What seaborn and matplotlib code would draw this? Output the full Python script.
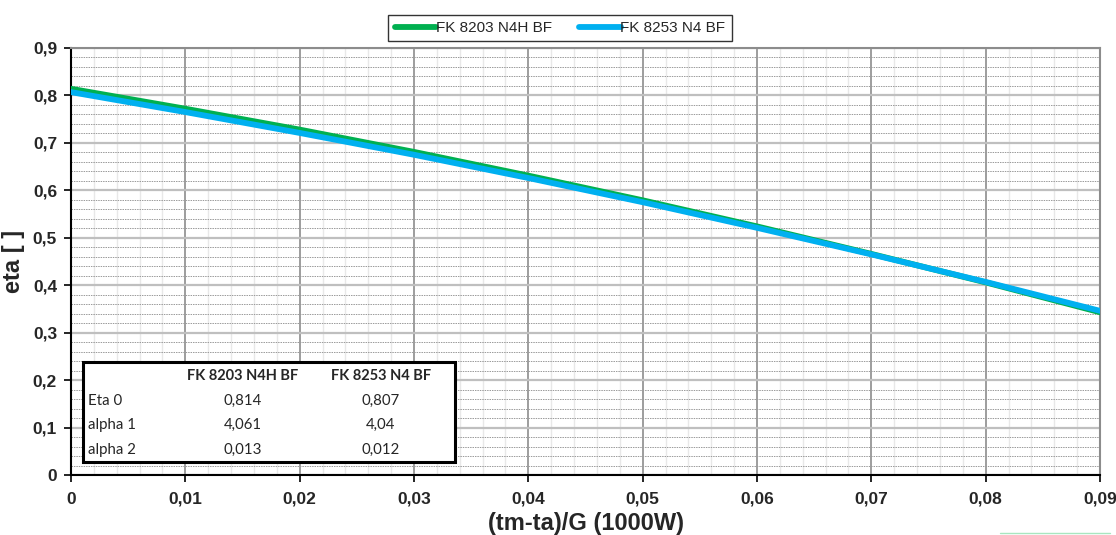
import numpy as np
import pandas as pd
import seaborn as sns
import matplotlib.pyplot as plt
from matplotlib.ticker import MultipleLocator, FuncFormatter
from matplotlib.lines import Line2D
from matplotlib.patches import Rectangle

# ---- data ----
x_vals = [0.00, 0.01, 0.02, 0.03, 0.04, 0.05, 0.06, 0.07, 0.08, 0.09]
eta_8203 = [0.814, 0.772, 0.728, 0.681, 0.631, 0.579, 0.524, 0.466, 0.406, 0.343]
eta_8253 = [0.807, 0.765, 0.721, 0.675, 0.626, 0.575, 0.521, 0.465, 0.407, 0.346]
series_names = ["FK 8203 N4H BF", "FK 8253 N4 BF"]
series_colors = ["#00b050", "#00b0f0"]
table_rows = ["Eta 0", "alpha 1", "alpha 2"]
table_8203 = ["0,814", "4,061", "0,013"]
table_8253 = ["0,807", "4,04", "0,012"]

df = pd.DataFrame({
    "x": x_vals * 2,
    "eta": eta_8203 + eta_8253,
    "series": [series_names[0]] * len(x_vals) + [series_names[1]] * len(x_vals),
})

sns.set_theme(style="white")
plt.rcParams['font.family'] = ['Liberation Sans', 'DejaVu Sans']

fig = plt.figure(figsize=(11.16, 5.35), dpi=100)
ax = fig.add_axes([71/1116, 1-475/535, (1100-71)/1116, (475-48)/535])

sns.lineplot(data=df, x="x", y="eta", hue="series", palette=series_colors,
             hue_order=series_names, linewidth=4.2, ax=ax, legend=False,
             zorder=5)
ax.lines[0].set_zorder(5)
ax.lines[1].set_zorder(6)

ax.set_xlim(0, 0.09)
ax.set_ylim(0, 0.9)
ax.xaxis.set_major_locator(MultipleLocator(0.01))
ax.xaxis.set_minor_locator(MultipleLocator(0.002))
ax.yaxis.set_major_locator(MultipleLocator(0.1))
ax.yaxis.set_minor_locator(MultipleLocator(0.02))

def comma_fmt(v, pos):
    s = f"{v:.2f}".rstrip('0').rstrip('.') if abs(v) > 1e-9 else "0"
    return s.replace('.', ',')
def comma_fmt_y(v, pos):
    s = f"{v:.1f}" if abs(v) > 1e-9 else "0"
    return s.replace('.', ',')
ax.xaxis.set_major_formatter(FuncFormatter(comma_fmt))
ax.yaxis.set_major_formatter(FuncFormatter(comma_fmt_y))

# grids
ax.grid(which='major', axis='x', color='#8c8c8c', linewidth=1.2, linestyle='-')
ax.grid(which='minor', axis='x', color='#e8e8e8', linewidth=1.0, linestyle='-')
ax.grid(which='major', axis='y', color='#bfbfbf', linewidth=1.6, linestyle='-')
ax.grid(which='minor', axis='y', color='#9a9a9a', linewidth=0.7, linestyle=(0, (1.5, 1)))
ax.set_axisbelow(True)

for side in ['top', 'right']:
    ax.spines[side].set_color('#8c8c8c')
    ax.spines[side].set_linewidth(1.5)
for side in ['left', 'bottom']:
    ax.spines[side].set_color('black')
    ax.spines[side].set_linewidth(1.5)

ax.tick_params(axis='both', which='major', direction='out', length=5, width=1.2,
               color='black', labelsize=12.5, pad=5)
ax.tick_params(axis='both', which='minor', length=0)
ax.tick_params(axis='x', which='major', pad=7, bottom=True)
ax.tick_params(axis='y', which='major', left=True)
for lbl in ax.get_xticklabels() + ax.get_yticklabels():
    lbl.set_fontweight('bold')

ax.set_xlabel("(tm-ta)/G (1000W)", fontsize=17, fontweight='bold', labelpad=4)
ax.set_ylabel("eta [ ]", fontsize=17, fontweight='bold', labelpad=6)

# legend
handles = [Line2D([0], [0], color=c, linewidth=4.2, solid_capstyle='round') for c in series_colors]
leg = fig.legend(handles, series_names, loc='center', bbox_to_anchor=(560/1116, 1-28/535),
                 ncol=2, frameon=True, fancybox=False, edgecolor='black', fontsize=11,
                 handlelength=2.7, handletextpad=0.0, columnspacing=1.8,
                 borderpad=0.4)
leg.get_frame().set_linewidth(1.0)

# parameter table
tx0, ty0, tx1, ty1 = 83, 362, 455, 462
def fx(px): return px / 1116
def fy(py): return 1 - py / 535
fig.patches.append(Rectangle((fx(tx0), fy(ty1)), fx(tx1) - fx(tx0), fy(ty0) - fy(ty1),
                             transform=fig.transFigure, facecolor='white',
                             edgecolor='black', linewidth=2.2, zorder=10))
tfont = ['Lato', 'Open Sans', 'DejaVu Sans']
row_y = [376, 401, 425, 450]
fig.text(fx(243), fy(row_y[0]), series_names[0], ha='center', va='center',
         fontsize=10.5, fontweight='bold', family=tfont, zorder=11)
fig.text(fx(381), fy(row_y[0]), series_names[1], ha='center', va='center',
         fontsize=10.5, fontweight='bold', family=tfont, zorder=11)
for i, name in enumerate(table_rows):
    fig.text(fx(88), fy(row_y[i + 1]), name, ha='left', va='center',
             fontsize=10.8, family=tfont, zorder=11)
    fig.text(fx(243), fy(row_y[i + 1]), table_8203[i], ha='center', va='center',
             fontsize=10.8, family=tfont, zorder=11)
    fig.text(fx(381), fy(row_y[i + 1]), table_8253[i], ha='center', va='center',
             fontsize=10.8, family=tfont, zorder=11)

# small green stroke at bottom right
fig.add_artist(Line2D([fx(1000), fx(1110)], [fy(533), fy(533)], color='#a8e6c0',
                      linewidth=1.0, transform=fig.transFigure))

fig.savefig("out.png", dpi=100, facecolor='white')
